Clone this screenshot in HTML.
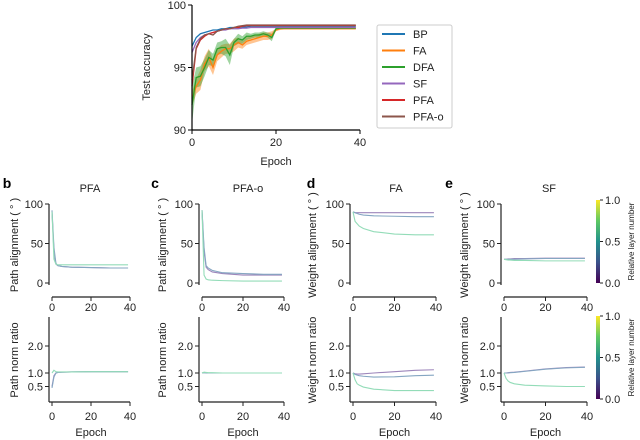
<!DOCTYPE html>
<html><head><meta charset="utf-8"><style>
body{margin:0;background:#fff;}
svg{display:block;font-family:"Liberation Sans",sans-serif;}
</style></head><body>
<svg id="fig" width="640" height="440" viewBox="0 0 640 440" xmlns="http://www.w3.org/2000/svg"></svg>
<script>
// ---- Panel a data ----
const epochsA = [0,1,2,3,4,5,6,7,8,9,10,11,12,13,14,15,16,17,18,19,20,21,22,23,24,25,26,27,28,29,30,31,32,33,34,35,36,37,38,39];
const methods = ["BP","FA","DFA","SF","PFA","PFA-o"];
const methodColors = ["#1f77b4","#ff7f0e","#2ca02c","#9467bd","#d62728","#8c564b"];
const accBP   = [96.7,97.4,97.7,97.8,97.9,98.0,98.0,98.1,98.1,98.2,98.2,98.2,98.25,98.25,98.3,98.3,98.3,98.3,98.3,98.3,98.3,98.3,98.3,98.3,98.3,98.3,98.3,98.3,98.3,98.3,98.3,98.3,98.3,98.3,98.3,98.3,98.3,98.3,98.3,98.3];
const accFA   = [92.5,93.5,94.0,95.3,95.8,95.0,96.0,96.3,96.5,96.5,96.8,97.0,96.8,97.1,97.2,97.3,97.4,97.5,97.5,97.6,98.0,98.1,98.1,98.1,98.1,98.1,98.1,98.1,98.1,98.1,98.1,98.1,98.1,98.1,98.1,98.1,98.1,98.1,98.1,98.1];
const accDFA  = [92.0,94.2,94.3,95.0,95.8,95.6,96.5,96.6,96.6,96.0,97.0,97.3,97.2,97.5,97.5,97.6,97.6,97.7,97.6,97.4,98.1,98.15,98.15,98.15,98.15,98.15,98.15,98.15,98.15,98.15,98.15,98.15,98.15,98.15,98.15,98.15,98.15,98.15,98.15,98.15];
const accSF   = [96.2,97.0,97.4,97.6,97.7,97.8,97.9,98.0,98.0,98.1,98.1,98.1,98.15,98.15,98.2,98.2,98.2,98.2,98.2,98.2,98.2,98.2,98.2,98.2,98.2,98.2,98.2,98.2,98.2,98.2,98.2,98.2,98.2,98.2,98.2,98.2,98.2,98.2,98.2,98.2];
const accPFA  = [93.5,96.5,97.2,97.5,97.7,97.8,97.9,98.0,98.1,98.1,98.2,98.2,98.3,98.35,98.35,98.35,98.35,98.35,98.35,98.35,98.35,98.35,98.35,98.35,98.35,98.35,98.35,98.35,98.35,98.35,98.35,98.35,98.35,98.35,98.35,98.35,98.35,98.35,98.35,98.35];
const accPFAo = [94.0,96.6,97.3,97.6,97.7,97.6,97.9,98.0,98.1,98.1,98.2,98.3,98.35,98.4,98.4,98.4,98.4,98.4,98.4,98.4,98.4,98.4,98.4,98.4,98.4,98.4,98.4,98.4,98.4,98.4,98.4,98.4,98.4,98.4,98.4,98.4,98.4,98.4,98.4,98.4];
const bandFA  = [0.6,0.6,0.8,0.6,0.7,0.6,0.5,0.5,0.4,0.4,0.5,0.4,0.3,0.3,0.3,0.3,0.3,0.3,0.3,0.3,0.1,0.1,0.05,0.05,0.05,0.05,0.05,0.05,0.05,0.05,0.05,0.05,0.05,0.05,0.05,0.05,0.05,0.05,0.05,0.05];
const bandDFA = [1.5,0.8,0.8,0.7,0.6,0.5,0.5,0.5,0.7,0.8,0.3,0.4,0.3,0.3,0.2,0.2,0.2,0.2,0.2,0.3,0.1,0.05,0.05,0.05,0.05,0.05,0.05,0.05,0.05,0.05,0.05,0.05,0.05,0.05,0.05,0.05,0.05,0.05,0.05,0.05];
const accTicksY = [90,95,100];
const accTicksX = [0,20,40];

// ---- Panels b-e data (sampled epochs) ----
const epochsS = [0,1,2,3,5,10,20,30,39];
const layerColors = ["#9d86bb","#85a6c2","#93dcb8"];
const bAlign = [[90,40,24,22,21,20,19.5,19,19],[92,45,25,22,21,20,19.5,19,19],[90,30,24,23,23,23,23,23,23]];
const cAlign = [[92,40,20,17,14,12,10,10,10],[92,45,22,19,16,13,12,11,11],[92,10,5,4,3.5,3,2.5,2.5,2.5]];
const dAlign = [[90,89,89,89,89,89,89,89,89],[90,89,88,87,86,85,84.5,84,84],[90,78,75,72,69,65,62,61,61]];
const eAlign = [[30,30,30.5,30.5,31,31,31.5,31.5,31.5],[30,30,30,30,30,30.5,31,31,31],[30,29.5,29,29,28.5,28.5,28,28,28]];
const bNorm = [[0.5,0.9,1.0,1.02,1.03,1.04,1.05,1.05,1.05],[0.45,0.85,1.0,1.02,1.03,1.04,1.05,1.05,1.05],[1.0,1.1,1.05,1.04,1.04,1.04,1.05,1.05,1.05]];
const cNorm = [[1.0,1.02,1.01,1.0,1.0,1.0,1.0,1.0,1.0],[1.0,1.01,1.0,1.0,1.0,1.0,1.0,1.0,1.0],[1.0,1.03,1.02,1.01,1.01,1.0,1.0,1.0,1.0]];
const dNorm = [[1.0,0.97,0.96,0.96,0.97,1.0,1.05,1.1,1.12],[1.0,0.95,0.92,0.9,0.88,0.85,0.86,0.9,0.92],[1.0,0.75,0.6,0.55,0.48,0.4,0.35,0.35,0.35]];
const eNorm = [[1.0,1.0,1.01,1.02,1.03,1.07,1.15,1.2,1.22],[1.0,1.0,1.0,1.01,1.02,1.06,1.14,1.19,1.21],[1.0,0.8,0.7,0.65,0.6,0.55,0.52,0.5,0.5]];
const alignTicks = [0,50,100];
const normTicks = [0.5,1.0,2.0];
const epochTicks = [0,20,40];
const cbTicks = [0.0,0.5,1.0];

const NS = "http://www.w3.org/2000/svg";
const svg = document.getElementById("fig");
function mk(tag, attrs, parent, text){
  const e = document.createElementNS(NS, tag);
  for (const k in attrs) e.setAttribute(k, attrs[k]);
  if (text !== undefined) e.textContent = text;
  (parent || svg).appendChild(e);
  return e;
}
function txt(x,y,s,size,anchor,parent,extra){
  return mk("text", Object.assign({x:x,y:y,"font-size":size,"text-anchor":anchor||"middle",fill:"#222"}, extra||{}), parent, s);
}

// ===== Panel a =====
const ga = mk("g",{});


const ax = v => 192 + (v-0)/40*168;
const ay = v => 130 - (v-90)/10*125;
[[accFA,bandFA,methodColors[1]],[accDFA,bandDFA,methodColors[2]]].forEach(([m,b,c],k)=>{
  let up = epochsA.map((e,i)=>ax(e)+","+ay(m[i]+b[i]));
  let lo = epochsA.map((e,i)=>ax(e)+","+ay(m[i]-b[i])).reverse();
  const p = mk("polygon",{points:up.concat(lo).join(" "),fill:c,"fill-opacity":0.45,stroke:"none"},ga);
  
  
});
const accSeries = [accBP,accFA,accDFA,accSF,accPFA,accPFAo];
const drawOrder = [1,2,3,0,4,5];
drawOrder.forEach(i=>{
  const pts = epochsA.map((e,j)=>ax(e)+","+ay(accSeries[i][j])).join(" ");
  const l = mk("polyline",{points:pts,fill:"none",stroke:methodColors[i],"stroke-width":1.3},ga);
  
  
});
mk("line",{x1:192,y1:5,x2:192,y2:130,stroke:"#000","stroke-width":1.2},ga);
mk("line",{x1:192,y1:130,x2:360,y2:130,stroke:"#000","stroke-width":1.2},ga);
accTicksY.forEach(v=>{
  mk("line",{x1:188,y1:ay(v),x2:192,y2:ay(v),stroke:"#000"},ga);
  const t = txt(186,ay(v)+4,String(v),11,"end",ga);
  
  
});
accTicksX.forEach(v=>{
  mk("line",{x1:ax(v),y1:130,x2:ax(v),y2:134,stroke:"#000"},ga);
  const t = txt(ax(v),146,String(v),11,"middle",ga);
  
  
});
const ayl = txt(0,0,"Test accuracy",11,"middle",ga,{transform:"translate(150,67) rotate(-90)"});


const axl = txt(276,165,"Epoch",11,"middle",ga);


const lg = mk("g",{},ga);


mk("rect",{x:377,y:25,width:75,height:103,fill:"#fff",stroke:"#ccc","stroke-width":1,rx:2},lg);
methods.forEach((m,i)=>{
  const y = 34 + i*16.5;
  const g = mk("g",{},lg);
  
  
  mk("line",{x1:382,y1:y,x2:405,y2:y,stroke:methodColors[i],"stroke-width":2},g);
  txt(413,y+4,m,11,"start",g);
});

// ===== Small panels =====
const panels = [
  {id:"b",title:"PFA",letterX:7,titleX:90,x0:52,x1:130,align:bAlign,norm:bNorm,yl1:"Path alignment ( ° )",yl2:"Path norm ratio",ylx:18},
  {id:"c",title:"PFA-o",letterX:155,titleX:248,x0:202,x1:284,align:cAlign,norm:cNorm,yl1:"Path alignment ( ° )",yl2:"Path norm ratio",ylx:166},
  {id:"d",title:"FA",letterX:311,titleX:396,x0:353,x1:436,align:dAlign,norm:dNorm,yl1:"Weight alignment ( ° )",yl2:"Weight norm ratio",ylx:316},
  {id:"e",title:"SF",letterX:449,titleX:549,x0:504,x1:587,align:eAlign,norm:eNorm,yl1:"Weight alignment ( ° )",yl2:"Weight norm ratio",ylx:468}
];
panels.forEach(p=>{
  const g = mk("g",{});
  
  
  const lt = txt(p.letterX,188,p.id,14,"middle",g,{"font-weight":"bold",fill:"#000"});
  
  
  const tt = txt(p.titleX,192,p.title,11,"middle",g);
  
  
  const sx = v => p.x0 + v/40*(p.x1-p.x0);
  const axisX = p.x0 - 3;
  const sy1 = v => 283 - v/100*79;
  p.align.forEach((ser,i)=>{
    const l = mk("polyline",{points:epochsS.map((e,j)=>sx(e)+","+sy1(ser[j])).join(" "),fill:"none",stroke:layerColors[i],"stroke-width":1.1},g);
    
    
  });
  mk("line",{x1:axisX,y1:204,x2:axisX,y2:285,stroke:"#222","stroke-width":1.2},g);
  mk("line",{x1:p.x0,y1:297,x2:p.x1,y2:297,stroke:"#222","stroke-width":1.2},g);
  alignTicks.forEach(v=>{
    mk("line",{x1:axisX-4,y1:sy1(v),x2:axisX,y2:sy1(v),stroke:"#222"},g);
    const t = txt(axisX-6,sy1(v)+4,String(v),11,"end",g);
    
    
  });
  epochTicks.forEach(v=>{
    mk("line",{x1:sx(v),y1:297,x2:sx(v),y2:301,stroke:"#222"},g);
    txt(sx(v),311,String(v),11,"middle",g);
  });
  const y1l = txt(0,0,p.yl1,11,"middle",g,{transform:"translate("+p.ylx+",245) rotate(-90)"});
  
  
  const sy2 = v => 400 - v*27;
  p.norm.forEach((ser,i)=>{
    const l = mk("polyline",{points:epochsS.map((e,j)=>sx(e)+","+sy2(ser[j])).join(" "),fill:"none",stroke:layerColors[i],"stroke-width":1.1},g);
    
    
  });
  mk("line",{x1:axisX,y1:317,x2:axisX,y2:402,stroke:"#222","stroke-width":1.2},g);
  mk("line",{x1:axisX,y1:402,x2:p.x1,y2:402,stroke:"#222","stroke-width":1.2},g);
  normTicks.forEach(v=>{
    mk("line",{x1:axisX-4,y1:sy2(v),x2:axisX,y2:sy2(v),stroke:"#222"},g);
    const t = txt(axisX-6,sy2(v)+4,v.toFixed(1),11,"end",g);
    
    
  });
  epochTicks.forEach(v=>{
    mk("line",{x1:sx(v),y1:402,x2:sx(v),y2:406,stroke:"#222"},g);
    txt(sx(v),420,String(v),11,"middle",g);
  });
  const y2l = txt(0,0,p.yl2,11,"middle",g,{transform:"translate("+p.ylx+",360) rotate(-90)"});
  
  
  const xl = txt((p.x0+p.x1)/2,436,"Epoch",11,"middle",g);
  
  
});

// ===== Colorbars =====
const defs = mk("defs",{});
const grad = mk("linearGradient",{id:"vir",x1:0,y1:1,x2:0,y2:0},defs);
[["0","#440154"],["0.25","#3b528b"],["0.5","#21918c"],["0.75","#5ec962"],["1","#fde725"]].forEach(([o,c])=>mk("stop",{offset:o,"stop-color":c},grad));
[[200,283],[316,399]].forEach(([t,b],k)=>{
  const g = mk("g",{});
  
  
  mk("rect",{x:596,y:t,width:4,height:b-t,fill:"url(#vir)"},g);
  cbTicks.forEach(v=>{
    const y = b - v*(b-t);
    mk("line",{x1:600,y1:y,x2:603,y2:y,stroke:"#222"},g);
    txt(605,y+4,v.toFixed(1),11,"start",g);
  });
  txt(0,0,"Relative layer number",8,"middle",g,{transform:"translate("+634+","+((t+b)/2)+") rotate(-90)"});
});
</script>
</body></html>
